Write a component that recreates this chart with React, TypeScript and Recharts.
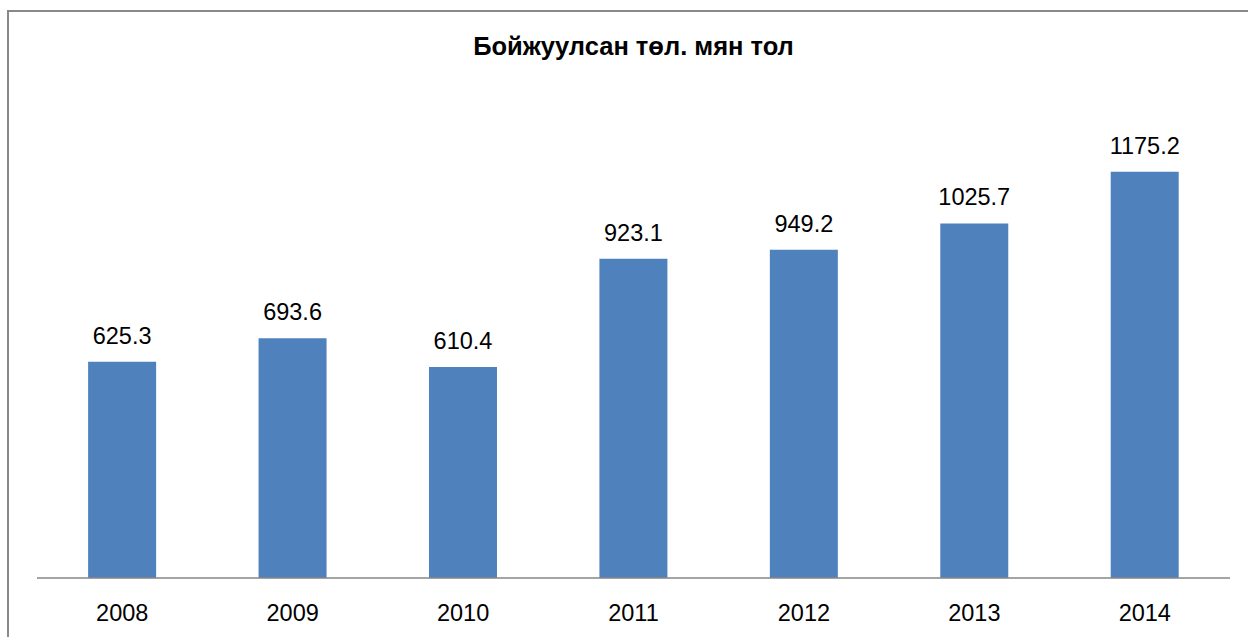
import React from 'react';
import { BarChart, Bar, XAxis, YAxis, LabelList } from 'recharts';

const years = ['2008', '2009', '2010', '2011', '2012', '2013', '2014'];
const values = [625.3, 693.6, 610.4, 923.1, 949.2, 1025.7, 1175.2];

const data = years.map((year, i) => ({ year, value: values[i] }));

const font = '"Liberation Sans", Arial, sans-serif';

export default function App() {
  return (
    <div style={{ position: 'absolute', left: 0, top: 0, width: 1248, height: 637, background: '#fff', overflow: 'hidden' }}>
      <div
        style={{
          position: 'absolute',
          left: 7,
          top: 10,
          width: 1260,
          height: 660,
          borderLeft: '2px solid #898989',
          borderTop: '2px solid #898989',
        }}
      />
      <div
        style={{
          position: 'absolute',
          left: 0,
          top: 31,
          width: 1267,
          textAlign: 'center',
          fontFamily: font,
          fontWeight: 'bold',
          fontSize: 25.5,
          lineHeight: '30px',
          color: '#000',
        }}
      >
        Бойжуулсан төл. мян тол
      </div>
      <BarChart
        width={1248}
        height={637}
        data={data}
        margin={{ top: 94, right: 18, bottom: 0, left: 37 }}
        barCategoryGap="30%"
      >
        <XAxis
          dataKey="year"
          height={59}
          tickLine={false}
          tickSize={6}
          tickMargin={20}
          axisLine={{ stroke: '#868686', strokeWidth: 1.5 }}
          tick={{ fill: '#000', fontSize: 23.5, fontFamily: font }}
        />
        <YAxis hide domain={[0, 1400]} />
        <Bar dataKey="value" fill="#4F81BD" isAnimationActive={false}>
          <LabelList
            dataKey="value"
            position="top"
            offset={18}
            style={{ fill: '#000', fontSize: 23.5, fontFamily: font }}
          />
        </Bar>
      </BarChart>
    </div>
  );
}
